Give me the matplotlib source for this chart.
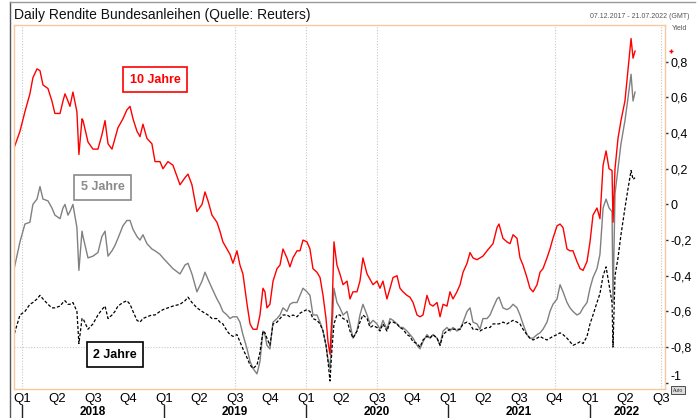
import matplotlib
matplotlib.use("Agg")
import matplotlib.pyplot as plt
import matplotlib.transforms as mtransforms
from matplotlib.lines import Line2D
from matplotlib.ticker import FuncFormatter

plt.rcParams['font.family'] = ['Liberation Sans', 'DejaVu Sans']

# time in decimal years
t = [2017.937, 2017.986, 2018.021, 2018.056, 2018.077, 2018.106, 2018.127, 2018.148, 2018.183, 2018.211,
     2018.232, 2018.268, 2018.289, 2018.303, 2018.324, 2018.338, 2018.359, 2018.387, 2018.401, 2018.423,
     2018.430, 2018.465, 2018.500, 2018.535, 2018.563, 2018.585, 2018.606, 2018.634, 2018.655, 2018.676,
     2018.711, 2018.739, 2018.761, 2018.782, 2018.810, 2018.831, 2018.852, 2018.880, 2018.915, 2018.937,
     2018.972, 2018.993, 2019.028, 2019.063, 2019.113, 2019.148, 2019.169, 2019.197, 2019.232, 2019.268,
     2019.289, 2019.310, 2019.338, 2019.373, 2019.394, 2019.415, 2019.444, 2019.465, 2019.486, 2019.514,
     2019.535, 2019.556, 2019.585, 2019.606, 2019.627, 2019.655, 2019.676, 2019.697, 2019.711, 2019.725,
     2019.746, 2019.768, 2019.796, 2019.817, 2019.838, 2019.866, 2019.887, 2019.908, 2019.937, 2019.958,
     2019.979, 2020.007, 2020.028, 2020.049, 2020.077, 2020.099, 2020.120, 2020.141, 2020.155, 2020.169,
     2020.183, 2020.197, 2020.218, 2020.239, 2020.261, 2020.289, 2020.310, 2020.331, 2020.359, 2020.380,
     2020.401, 2020.430, 2020.451, 2020.472, 2020.500, 2020.521, 2020.542, 2020.570, 2020.592, 2020.613,
     2020.641, 2020.662, 2020.683, 2020.711, 2020.732, 2020.754, 2020.782, 2020.803, 2020.824, 2020.852,
     2020.873, 2020.894, 2020.923, 2020.944, 2020.965, 2020.993, 2021.014, 2021.035, 2021.063, 2021.085,
     2021.106, 2021.134, 2021.155, 2021.176, 2021.204, 2021.225, 2021.246, 2021.275, 2021.296, 2021.317,
     2021.345, 2021.359, 2021.387, 2021.415, 2021.437, 2021.458, 2021.486, 2021.507, 2021.528, 2021.556,
     2021.577, 2021.599, 2021.627, 2021.648, 2021.669, 2021.697, 2021.718, 2021.739, 2021.768, 2021.789,
     2021.810, 2021.838, 2021.859, 2021.880, 2021.908, 2021.930, 2021.951, 2021.979, 2022.000, 2022.021,
     2022.049, 2022.070, 2022.092, 2022.113, 2022.134, 2022.155, 2022.162, 2022.176, 2022.197, 2022.218,
     2022.246, 2022.268, 2022.289, 2022.303, 2022.317]

y10 = [0.30, 0.41, 0.52, 0.62, 0.71, 0.76, 0.75, 0.67, 0.65, 0.58,
       0.51, 0.51, 0.58, 0.62, 0.58, 0.55, 0.63, 0.52, 0.28, 0.48,
       0.47, 0.35, 0.31, 0.31, 0.39, 0.47, 0.34, 0.31, 0.37, 0.43,
       0.48, 0.53, 0.55, 0.48, 0.41, 0.38, 0.45, 0.37, 0.34, 0.24,
       0.24, 0.20, 0.24, 0.22, 0.11, 0.15, 0.17, 0.11, -0.04, 0.00,
       0.07, 0.02, -0.06, -0.10, -0.15, -0.21, -0.25, -0.28, -0.33, -0.26,
       -0.34, -0.39, -0.56, -0.67, -0.70, -0.70, -0.62, -0.47, -0.49, -0.58,
       -0.56, -0.43, -0.36, -0.34, -0.25, -0.30, -0.35, -0.30, -0.26, -0.26,
       -0.20, -0.21, -0.25, -0.36, -0.38, -0.41, -0.51, -0.64, -0.77, -0.84,
       -0.62, -0.21, -0.34, -0.39, -0.45, -0.43, -0.53, -0.49, -0.49, -0.43,
       -0.30, -0.39, -0.42, -0.45, -0.43, -0.47, -0.43, -0.53, -0.47, -0.41,
       -0.40, -0.47, -0.49, -0.51, -0.52, -0.55, -0.62, -0.63, -0.62, -0.51,
       -0.56, -0.57, -0.55, -0.63, -0.56, -0.57, -0.49, -0.53, -0.49, -0.45,
       -0.38, -0.33, -0.27, -0.30, -0.31, -0.30, -0.29, -0.26, -0.24, -0.22,
       -0.13, -0.11, -0.19, -0.21, -0.22, -0.17, -0.19, -0.30, -0.34, -0.41,
       -0.47, -0.49, -0.45, -0.38, -0.36, -0.30, -0.25, -0.19, -0.12, -0.11,
       -0.13, -0.25, -0.26, -0.26, -0.32, -0.36, -0.37, -0.32, -0.21, -0.06,
       -0.02, -0.08, 0.22, 0.30, 0.20, 0.19, -0.10, 0.20, 0.37, 0.47,
       0.58, 0.76, 0.93, 0.82, 0.86]

y5 = [-0.39, -0.21, -0.11, -0.10, 0.00, 0.03, 0.10, 0.03, 0.02, -0.02,
      -0.06, -0.08, -0.02, 0.00, -0.06, -0.04, 0.00, -0.13, -0.37, -0.15,
      -0.18, -0.30, -0.29, -0.27, -0.18, -0.15, -0.29, -0.26, -0.23, -0.19,
      -0.12, -0.09, -0.09, -0.14, -0.18, -0.20, -0.17, -0.22, -0.25, -0.26,
      -0.28, -0.30, -0.33, -0.36, -0.39, -0.34, -0.33, -0.39, -0.49, -0.43,
      -0.38, -0.42, -0.47, -0.53, -0.56, -0.60, -0.62, -0.64, -0.63, -0.63,
      -0.66, -0.73, -0.81, -0.88, -0.92, -0.95, -0.88, -0.71, -0.73, -0.79,
      -0.81, -0.66, -0.64, -0.62, -0.58, -0.60, -0.56, -0.55, -0.55, -0.51,
      -0.47, -0.49, -0.51, -0.62, -0.62, -0.66, -0.71, -0.79, -0.87, -0.92,
      -0.71, -0.47, -0.55, -0.58, -0.62, -0.60, -0.67, -0.75, -0.71, -0.62,
      -0.56, -0.62, -0.67, -0.65, -0.67, -0.70, -0.65, -0.70, -0.64, -0.65,
      -0.67, -0.69, -0.69, -0.71, -0.73, -0.75, -0.79, -0.81, -0.77, -0.73,
      -0.75, -0.73, -0.75, -0.79, -0.71, -0.69, -0.71, -0.69, -0.71, -0.70,
      -0.66, -0.60, -0.58, -0.66, -0.67, -0.70, -0.64, -0.64, -0.62, -0.58,
      -0.53, -0.52, -0.58, -0.59, -0.58, -0.56, -0.58, -0.62, -0.67, -0.73,
      -0.75, -0.75, -0.73, -0.72, -0.70, -0.66, -0.60, -0.56, -0.53, -0.45,
      -0.49, -0.55, -0.58, -0.60, -0.62, -0.61, -0.58, -0.55, -0.47, -0.41,
      -0.36, -0.28, -0.02, 0.03, -0.02, -0.04, -0.55, 0.06, 0.20, 0.34,
      0.47, 0.60, 0.73, 0.58, 0.63]

y2 = [-0.75, -0.62, -0.60, -0.56, -0.55, -0.53, -0.51, -0.53, -0.56, -0.58,
      -0.58, -0.57, -0.55, -0.54, -0.56, -0.56, -0.55, -0.60, -0.78, -0.64,
      -0.64, -0.70, -0.67, -0.62, -0.59, -0.57, -0.64, -0.62, -0.60, -0.57,
      -0.55, -0.54, -0.56, -0.60, -0.65, -0.66, -0.64, -0.63, -0.62, -0.62,
      -0.60, -0.59, -0.58, -0.57, -0.56, -0.54, -0.52, -0.55, -0.58, -0.60,
      -0.61, -0.62, -0.64, -0.64, -0.66, -0.67, -0.71, -0.73, -0.74, -0.73,
      -0.77, -0.81, -0.86, -0.90, -0.92, -0.90, -0.83, -0.71, -0.72, -0.75,
      -0.79, -0.67, -0.66, -0.64, -0.62, -0.62, -0.63, -0.62, -0.63, -0.61,
      -0.60, -0.59, -0.60, -0.64, -0.65, -0.67, -0.71, -0.79, -0.88, -0.99,
      -0.81, -0.67, -0.62, -0.62, -0.64, -0.65, -0.71, -0.75, -0.71, -0.66,
      -0.62, -0.64, -0.69, -0.68, -0.69, -0.71, -0.67, -0.71, -0.66, -0.66,
      -0.67, -0.69, -0.70, -0.73, -0.74, -0.77, -0.78, -0.80, -0.76, -0.74,
      -0.75, -0.73, -0.75, -0.79, -0.73, -0.71, -0.70, -0.70, -0.70, -0.70,
      -0.67, -0.66, -0.67, -0.70, -0.70, -0.71, -0.70, -0.69, -0.69, -0.67,
      -0.67, -0.67, -0.66, -0.67, -0.66, -0.65, -0.66, -0.67, -0.70, -0.73,
      -0.75, -0.76, -0.75, -0.74, -0.75, -0.76, -0.75, -0.74, -0.73, -0.72,
      -0.73, -0.75, -0.77, -0.79, -0.78, -0.77, -0.78, -0.74, -0.67, -0.62,
      -0.55, -0.50, -0.40, -0.35, -0.45, -0.55, -0.80, -0.40, -0.30, -0.17,
      -0.02, 0.09, 0.19, 0.14, 0.15]

q_pos = [2018.0, 2018.25, 2018.5, 2018.75, 2019.0, 2019.25, 2019.5, 2019.75,
         2020.0, 2020.25, 2020.5, 2020.75, 2021.0, 2021.25, 2021.5, 2021.75,
         2022.0, 2022.25, 2022.5]
q_labels = ['Q1', 'Q2', 'Q3', 'Q4'] * 4 + ['Q1', 'Q2', 'Q3']
years = [2018, 2019, 2020, 2021, 2022]
year_mid = [2018.5, 2019.5, 2020.5, 2021.5, 2022.26]
grid_x = [2018.0, 2019.5, 2020.0, 2020.5, 2021.75, 2022.5]
y_ticks = [0.8, 0.6, 0.4, 0.2, 0, -0.2, -0.4, -0.6, -0.8, -1]

W, H = 699, 418
fig = plt.figure(figsize=(W / 100, H / 100), dpi=100)
ax = fig.add_axes([14 / W, 1 - 389 / H, (665 - 14) / W, (389 - 25) / H])

for gx in grid_x:
    ax.axvline(gx, color='#c8c8c8', lw=0.8, ls=(0, (1, 1.5)), zorder=0)
ax.axhline(-0.8, color='#c8c8c8', lw=0.8, ls=(0, (1, 1.5)), zorder=0)

ax.plot(t, y5, color='#808080', lw=1.0)
ax.plot(t, y2, color='black', lw=0.9, ls=(0, (2.5, 1.5)))
ax.plot(t, y10, color='#ff0000', lw=1.0)

ax.set_xlim(2017.944, 2022.528)
ax.set_ylim(-1.035, 1.006)

for s in ax.spines.values():
    s.set_color('#f5c99b')
    s.set_linewidth(1.0)

ax.yaxis.tick_right()
ax.set_yticks(y_ticks)
ax.yaxis.set_major_formatter(FuncFormatter(lambda v, p: f"{v:g}".replace('.', ',')))
ax.tick_params(axis='y', length=2.5, width=1, color='#333333', pad=1.5, labelsize=9)
ax.get_yticklabels()[-1].set_va('bottom')

ax.set_xticks(q_pos)
ax.set_xticklabels(q_labels)
ax.tick_params(axis='x', length=0, pad=3, labelsize=9.5)

trans = mtransforms.blended_transform_factory(ax.transData, ax.transAxes)
for yr, xm in zip(years, year_mid):
    ax.text(xm, -0.062, str(yr), transform=trans, ha='center', va='center',
            fontsize=8.5, fontweight='bold', clip_on=False)
    ax.plot([yr, yr], [-0.044, -0.09], transform=trans, color='#222222', lw=1, clip_on=False)

# series labels
ax.text(2018.937, 0.70, '10 Jahre', color='#ff0000', fontsize=9, fontweight='bold', ha='center', va='center',
        bbox=dict(boxstyle='square,pad=0.5', fc='white', ec='#ff0000', lw=1.2))
ax.text(2018.567, 0.095, '5 Jahre', color='#8a8a8a', fontsize=9, fontweight='bold', ha='center', va='center',
        bbox=dict(boxstyle='square,pad=0.5', fc='white', ec='#8a8a8a', lw=1.2))
ax.text(2018.655, -0.842, '2 Jahre', color='black', fontsize=9, fontweight='bold', ha='center', va='center',
        bbox=dict(boxstyle='square,pad=0.5', fc='white', ec='black', lw=1.2))

# last value marker on the right
rtrans = mtransforms.blended_transform_factory(ax.transAxes, ax.transData)
ax.plot([1.009], [y10[-1]], transform=rtrans, marker='+', ms=3, color='#ff0000', clip_on=False)

fig.text(14 / W, 1 - 15 / H, 'Daily Rendite Bundesanleihen (Quelle: Reuters)', ha='left', va='center',
         fontsize=10, color='#111111')
fig.text(690 / W, 1 - 17 / H, '07.12.2017 - 21.07.2022 (GMT)', ha='right', va='center', fontsize=5, color='#555555')
fig.text(672 / W, 1 - 28 / H, 'Yield', ha='left', va='center', fontsize=5, color='#555555')
fig.text(678 / W, 1 - 390 / H, 'Auto', ha='center', va='center', fontsize=3.5, color='#333333',
         bbox=dict(boxstyle='square,pad=0.3', fc='#dddddd', ec='#333333', lw=0.6))

# outer frame
fig.add_artist(Line2D([9.5 / W, 9.5 / W], [0, 1 - 1.5 / H], color='#555555', lw=1))
fig.add_artist(Line2D([9.5 / W, 695 / W], [1 - 1.5 / H, 1 - 1.5 / H], color='#999999', lw=1))

fig.savefig('out.png', dpi=100)
